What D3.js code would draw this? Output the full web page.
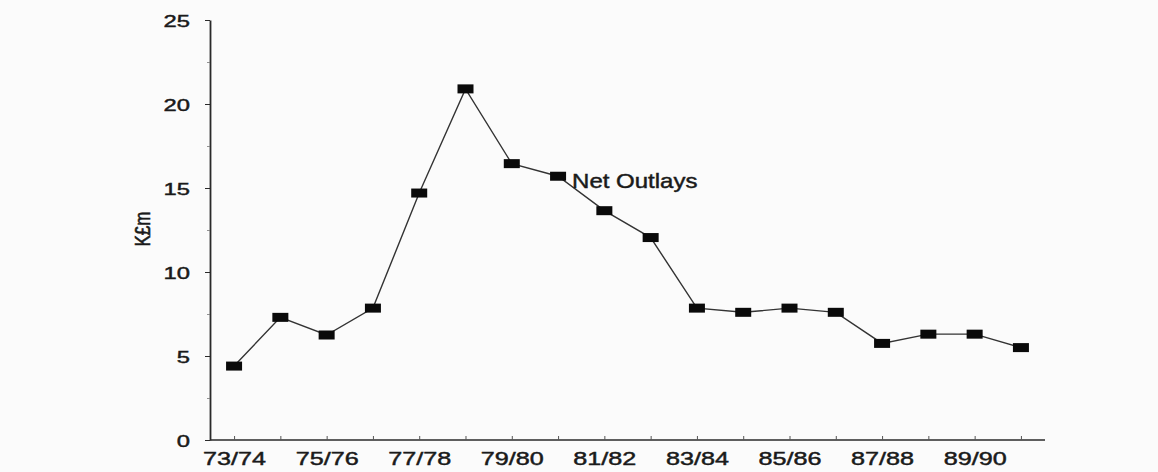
<!DOCTYPE html>
<html>
<head>
<meta charset="utf-8">
<script src="https://cdn.jsdelivr.net/npm/d3@7"></script>
<style>
  html, body { margin: 0; padding: 0; background: #fbfbfb; }
  svg { display: block; }
  text { font-family: "Liberation Sans", Arial, Helvetica, sans-serif; fill: #1a1a1a; stroke: #1a1a1a; stroke-width: 0.45px; }
</style>
</head>
<body>
<svg id="chart" width="1158" height="472"></svg>
<script>
// ---- data ----
const categories = ["73/74","74/75","75/76","76/77","77/78","78/79","79/80","80/81","81/82",
                    "82/83","83/84","84/85","85/86","86/87","87/88","88/89","89/90","90/91"];
const netOutlays = [4.4, 7.3, 6.25, 7.85, 14.7, 20.9, 16.45, 15.7, 13.65,
                    12.05, 7.85, 7.6, 7.85, 7.6, 5.75, 6.3, 6.3, 5.5];
const yTicks = [0, 5, 10, 15, 20, 25];
const yMinorTicks = [2.5, 7.5, 12.5, 17.5, 22.5];
const xTickLabels = ["73/74","75/76","77/78","79/80","81/82","83/84","85/86","87/88","89/90"];
const seriesLabel = "Net Outlays";
const yAxisTitle = "K£m";

// ---- layout ----
const svg = d3.select("#chart");
const mLeft = 210, mRight = 1045, mTop = 20, mBottom = 440;
const sx = 1.4; // horizontal stretch of the scanned text

const x = d3.scalePoint().domain(categories).range([mLeft, mRight]).padding(0.52);
const y = d3.scaleLinear().domain([0, 25]).range([mBottom, mTop]);

const ink = "#2a2a2a";

// x axis
const xAxis = svg.append("g").attr("transform", `translate(0,${mBottom})`)
  .call(d3.axisBottom(x).tickSize(-4).tickSizeOuter(0)
        .tickFormat(d => xTickLabels.includes(d) ? d : ""));
xAxis.select(".domain").attr("d", `M${mLeft},0H${mRight}`).attr("stroke", ink).attr("stroke-width", 1.6);
xAxis.selectAll(".tick line").attr("stroke", "#555").attr("stroke-width", 1);
xAxis.selectAll(".tick text")
  .attr("y", 0).attr("dy", 0)
  .attr("font-size", 18)
  .attr("transform", `translate(0,25) scale(${sx},1)`)
  .style("fill", "#1a1a1a");

// y axis
const yAxis = svg.append("g").attr("transform", `translate(${mLeft},0)`)
  .call(d3.axisLeft(y).tickValues(yTicks).tickSize(5).tickSizeOuter(0));
yAxis.select(".domain").attr("stroke", ink).attr("stroke-width", 1.8);
yAxis.selectAll(".tick line").attr("stroke", ink).attr("stroke-width", 1);
yAxis.selectAll(".tick text")
  .attr("x", -20 / sx).attr("dy", "0.36em")
  .attr("font-size", 17)
  .attr("transform", `scale(${sx},1)`)
  .style("fill", "#1a1a1a");

// minor y ticks
svg.append("g").attr("transform", `translate(${mLeft},0)`)
  .call(d3.axisLeft(y).tickValues(yMinorTicks).tickSize(3).tickFormat(""))
  .call(g => g.select(".domain").remove())
  .selectAll(".tick line").attr("stroke", "#777").attr("stroke-width", 0.8);

// y axis title
svg.append("text")
  .attr("transform", `translate(150,229) rotate(-90) scale(1,1.3)`)
  .attr("text-anchor", "middle")
  .attr("font-size", 17)
  .text(yAxisTitle);

// line
const line = d3.line().x((d, i) => x(categories[i])).y(d => y(d));
svg.append("path").datum(netOutlays)
  .attr("d", line)
  .attr("fill", "none")
  .attr("stroke", "#333")
  .attr("stroke-width", 1.4);

// markers
const mw = 16, mh = 9;
svg.append("g").selectAll("rect").data(netOutlays).join("rect")
  .attr("x", (d, i) => x(categories[i]) - mw / 2)
  .attr("y", d => y(d) - mh / 2)
  .attr("width", mw).attr("height", mh)
  .attr("fill", "#0a0a0a");

// series label
const li = categories.indexOf("80/81");
svg.append("text")
  .attr("transform", `translate(${x(categories[li]) + 14},${y(netOutlays[li]) + 12}) scale(1.2,1)`)
  .attr("font-size", 20)
  .text(seriesLabel);
</script>
</body>
</html>
